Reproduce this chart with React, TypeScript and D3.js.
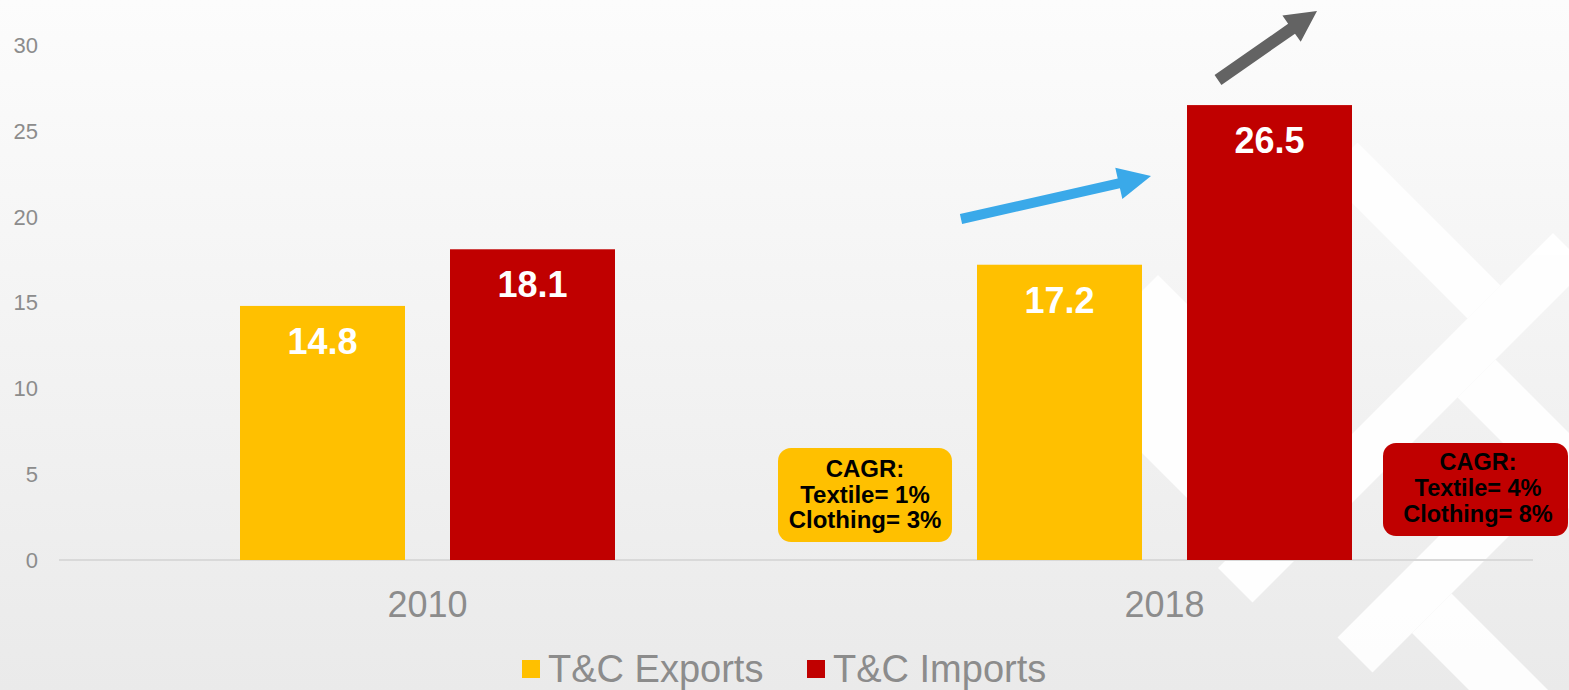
import React from "react";
import * as d3 from "d3";

const W = 1569;
const H = 690;

const years = ["2010", "2018"];
const seriesNames = ["T&C Exports", "T&C Imports"];
const exportsVals = [14.8, 17.2];
const importsVals = [18.1, 26.5];
const seriesColors = ["#FFC000", "#C00000"];
const yTicks = [0, 5, 10, 15, 20, 25, 30];

const cagrExports = ["CAGR:", "Textile= 1%", "Clothing= 3%"];
const cagrImports = ["CAGR:", "Textile= 4%", "Clothing= 8%"];

const font = "'Liberation Sans', Arial, sans-serif";

// arrow polygon from tail to tip
function arrowPath(x0: number, y0: number, x1: number, y1: number, shaft: number, headLen: number, headW: number) {
  const dx = x1 - x0, dy = y1 - y0;
  const len = Math.sqrt(dx * dx + dy * dy);
  const ux = dx / len, uy = dy / len;
  const nx = -uy, ny = ux;
  const bx = x1 - ux * headLen, by = y1 - uy * headLen;
  const p = [
    [x0 + nx * shaft / 2, y0 + ny * shaft / 2],
    [bx + nx * shaft / 2, by + ny * shaft / 2],
    [bx + nx * headW / 2, by + ny * headW / 2],
    [x1, y1],
    [bx - nx * headW / 2, by - ny * headW / 2],
    [bx - nx * shaft / 2, by - ny * shaft / 2],
    [x0 - nx * shaft / 2, y0 - ny * shaft / 2],
  ];
  return "M" + p.map(d => d.join(",")).join("L") + "Z";
}

// diagonal band shapes in u = x + y, v = x - y
function uvBox(u0: number, u1: number, v0: number, v1: number) {
  const pts = [[u0, v0], [u1, v0], [u1, v1], [u0, v1]];
  return "M" + pts.map(([u, v]) => [(u + v) / 2, (u - v) / 2].join(",")).join("L") + "Z";
}

export default function App() {
  const y = d3.scaleLinear().domain([0, 30]).range([560, 45]);
  const x0 = d3.scaleBand().domain(years).range([59, 1533]);
  const x1 = d3.scaleBand().domain(seriesNames).range([0, 375]).paddingInner(45 / 210);
  const off = (x0.bandwidth() - 375) / 2;

  const rows = years.map((yr, i) => ({ yr, vals: [exportsVals[i], importsVals[i]] }));

  // background logo stripes
  const bg = [
    uvBox(1433, 1786, 689, 883),
    uvBox(1786, 1855, 650, 1320),
    uvBox(1500, 1786, 1149, 1215),
    uvBox(1855, 2300, 1060, 1136),
    uvBox(1975, 2045, 700, 1000),
    uvBox(2045, 2400, 779, 858),
  ];

  return (
    <svg width={W} height={H} style={{ position: "absolute", left: 0, top: 0 }}>
      <defs>
        <linearGradient id="bgGrad" x1="0" y1="0" x2="0" y2="1">
          <stop offset="0" stopColor="#fcfcfc" />
          <stop offset="1" stopColor="#eaeaea" />
        </linearGradient>
      </defs>
      <rect x={0} y={0} width={W} height={H} fill="url(#bgGrad)" />
      <g fill="#ffffff" opacity={0.95}>
        {bg.map((d, i) => <path key={i} d={d} />)}
      </g>

      {/* y axis labels */}
      {yTicks.map(t => (
        <text key={t} x={38} y={y(t)} dy="0.36em" textAnchor="end" fontFamily={font} fontSize={22} fill="#8c8c8c">{t}</text>
      ))}
      <line x1={59} x2={1533} y1={y(0)} y2={y(0)} stroke="#d9d9d9" strokeWidth={2} />

      {/* bars */}
      {rows.map(r => (
        <g key={r.yr} transform={`translate(${(x0(r.yr) || 0) + off},0)`}>
          {r.vals.map((v, j) => (
            <g key={j}>
              <rect x={x1(seriesNames[j])} y={y(v)} width={x1.bandwidth()} height={y(0) - y(v)} fill={seriesColors[j]} />
              <text x={(x1(seriesNames[j]) || 0) + x1.bandwidth() / 2} y={y(v) + 48} textAnchor="middle" fontFamily={font} fontWeight="bold" fontSize={36} fill="#ffffff">{v.toFixed(1)}</text>
            </g>
          ))}
          <text x={x0.bandwidth() / 2 - off} y={617} textAnchor="middle" fontFamily={font} fontSize={36} fill="#8c8c8c">{r.yr}</text>
        </g>
      ))}

      {/* arrows */}
      <path d={arrowPath(961, 219, 1151, 176, 10, 33, 32)} fill="#3aa9e9" />
      <path d={arrowPath(1218, 80, 1317, 11, 12, 31, 32)} fill="#636363" />

      {/* CAGR boxes */}
      <rect x={778} y={448} width={174} height={94} rx={13} fill="#FFC000" />
      {cagrExports.map((t, i) => (
        <text key={i} x={865} y={477 + i * 25.5} textAnchor="middle" fontFamily={font} fontWeight="bold" fontSize={24} fill="#000">{t}</text>
      ))}
      <rect x={1383} y={443} width={185} height={93} rx={13} fill="#C00000" />
      {cagrImports.map((t, i) => (
        <text key={i} x={1478} y={470 + i * 26} textAnchor="middle" fontFamily={font} fontWeight="bold" fontSize={23.5} fill="#000">{t}</text>
      ))}

      {/* legend */}
      {seriesNames.map((s, i) => {
        const lx = [522, 807][i];
        return (
          <g key={s}>
            <rect x={lx} y={660} width={18} height={18} fill={seriesColors[i]} />
            <text x={lx + 26} y={682} fontFamily={font} fontSize={38} fill="#8c8c8c">{s}</text>
          </g>
        );
      })}
    </svg>
  );
}
